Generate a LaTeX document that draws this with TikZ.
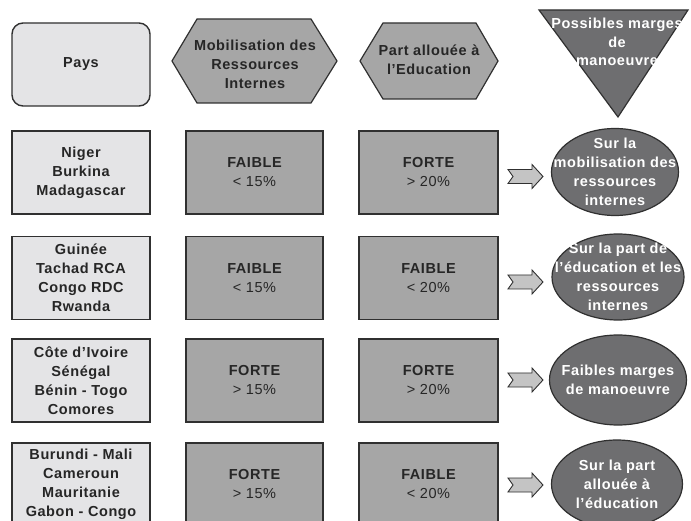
\documentclass[tikz,border=0pt]{standalone}
\usepackage{fontspec}
\setmainfont{Liberation Sans}[LetterSpace=4]
\usetikzlibrary{shapes.geometric}
\definecolor{lightfill}{HTML}{E4E4E6}
\definecolor{midfill}{HTML}{A6A6A6}
\definecolor{darkfill}{HTML}{6E6E70}
\definecolor{arrowfill}{HTML}{C4C4C4}
\definecolor{edgecol}{HTML}{303030}
\newcommand{\subline}[1]{{\fontsize{14.5}{19}\selectfont\mdseries #1}}
\begin{document}
\begin{tikzpicture}[x=1pt,y=-1pt,
  txt/.style={align=center, font=\fontsize{14.5}{19}\selectfont\bfseries, inner sep=0pt, text=black!85},
  wtxt/.style={txt, text=white},
  countrybox/.style={draw=edgecol, line width=1.4pt, fill=lightfill, minimum width=138pt, minimum height=83pt, txt},
  valbox/.style={draw=edgecol, line width=1.4pt, fill=midfill, minimum width=137pt, minimum height=83pt, txt},
  shapeline/.style={draw=edgecol, line width=1.2pt},
  marginell/.style={ellipse, draw=edgecol, line width=1.2pt, fill=darkfill, inner sep=0pt},
  notcharrow/.pic={\draw[draw=edgecol, fill=arrowfill, line width=0.9pt, line join=miter]
      (-17.5,-7) -- (6.5,-7) -- (6.5,-12) -- (17.5,0) -- (6.5,12) -- (6.5,7) -- (-17.5,7) -- (-12.5,0) -- cycle;}
]
\useasboundingbox (0,0) rectangle (691,521);
\fill[white] (0,0) rectangle (691,521);

% headers
\node[draw=edgecol, line width=1.4pt, fill=lightfill, rounded corners=11pt,
      minimum width=138pt, minimum height=83pt, txt] (pays) at (81,64.5) {Pays};

\path[shapeline, fill=midfill] (172,61) -- (197,19) -- (311,19) -- (337,61) -- (311,103) -- (197,103) -- cycle;
\node[txt] (mob) at (255,64) {Mobilisation des\\Ressources\\Internes};

\path[shapeline, fill=midfill] (360,61) -- (383,23) -- (476,23) -- (498,61) -- (476,99) -- (383,99) -- cycle;
\node[txt] (part) at (429,60) {Part allouée à\\l'Education};

\path[shapeline, fill=darkfill, line join=miter] (539,10) -- (688,10) -- (618,117) -- cycle;
\node[wtxt, font=\fontsize{14.5}{18.5}\selectfont\bfseries] (marg) at (617,42) {Possibles marges\\de\\manoeuvre};

% row 1
\node[countrybox] (c1) at (81,172.5) {Niger\\Burkina\\Madagascar};
\node[valbox] (m1) at (254.5,172.5) {FAIBLE\\\subline{< 15\%}};
\node[valbox, minimum width=139pt] (p1) at (428.5,172.5) {FORTE\\\subline{> 20\%}};
\pic at (525.5,176.5) {notcharrow};
\node[marginell, minimum width=127pt, minimum height=87pt] (e1) at (615,172) {};
\node[wtxt] at (e1) {Sur la\\mobilisation des\\ressources\\internes};

% row 2
\node[countrybox] (c2) at (81,278) {Guinée\\Tachad RCA\\Congo RDC\\Rwanda};
\node[valbox] (m2) at (254.5,278) {FAIBLE\\\subline{< 15\%}};
\node[valbox, minimum width=139pt] (p2) at (428.5,278) {FAIBLE\\\subline{< 20\%}};
\pic at (525.5,282) {notcharrow};
\node[marginell, minimum width=132pt, minimum height=86pt] (e2) at (618,277) {};
\node[wtxt] at (e2) {Sur la part de\\l'éducation et les\\ressources\\internes};

% row 3
\node[countrybox] (c3) at (81,380.5) {Côte d'Ivoire\\Sénégal\\Bénin - Togo\\Comores};
\node[valbox] (m3) at (254.5,380.5) {FORTE\\\subline{> 15\%}};
\node[valbox, minimum width=139pt] (p3) at (428.5,380.5) {FORTE\\\subline{> 20\%}};
\pic at (525.5,380) {notcharrow};
\node[marginell, minimum width=137pt, minimum height=90pt] (e3) at (618,380) {};
\node[wtxt] at (e3) {Faibles marges\\de manoeuvre};

% row 4
\node[countrybox] (c4) at (81,484.5) {Burundi - Mali\\Cameroun\\Mauritanie\\Gabon - Congo};
\node[valbox] (m4) at (254.5,484.5) {FORTE\\\subline{> 15\%}};
\node[valbox, minimum width=139pt] (p4) at (428.5,484.5) {FAIBLE\\\subline{< 20\%}};
\pic at (525.5,485) {notcharrow};
\node[marginell, minimum width=131pt, minimum height=88pt] (e4) at (617,484) {};
\node[wtxt] at (e4) {Sur la part\\allouée à\\l'éducation};
\end{tikzpicture}
\end{document}
